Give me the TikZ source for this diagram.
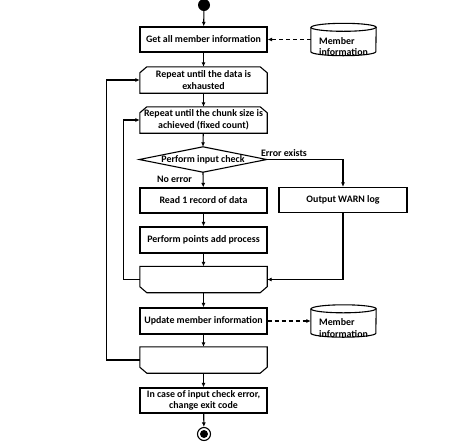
\documentclass[tikz,border=0pt]{standalone}
\usepackage{fontspec}
\setmainfont{Carlito}
\usetikzlibrary{arrows.meta}
\begin{document}
\begin{tikzpicture}[x=1pt,y=-1pt,
  font=\fontsize{9.9}{11.5}\selectfont\bfseries,
  outline/.style={draw=black, line width=1.1pt},
  box/.style={outline, minimum width=127pt, minimum height=25pt, inner sep=1pt, align=center},
  shell/.style={minimum width=127pt, minimum height=26pt, inner sep=1pt, align=center},
  flow/.style={line width=1.1pt, -{Latex[length=4.5pt,width=4pt]}},
  dashflow/.style={flow, dash pattern=on 4pt off 3pt},
  lbl/.style={inner sep=0pt},
  dbshape/.style={minimum width=65pt, minimum height=32pt, inner sep=0pt}
]
\useasboundingbox (0,0) rectangle (474,445);

% start / end
\node[circle, fill=black, minimum size=12pt, inner sep=0pt] (start) at (204,5) {};
\node[box] (b1) at (203.5,39.5) {Get all member information};
\node[shell] (l1) at (203.5,80) {Repeat until the data is\\exhausted};
\node[shell] (l2) at (203.5,120) {Repeat until the chunk size is\\achieved (fixed count)};
\node[minimum width=127pt, minimum height=25pt, inner sep=0pt] (chk) at (203,159.5) {Perform input check};
\node[box] (rd) at (203.5,200.5) {Read 1 record of data};
\node[box, minimum width=128pt] (warn) at (343,200) {Output WARN log};
\node[box, minimum height=26pt] (pts) at (203.5,240) {Perform points add process};
\node[shell] (e1) at (203.5,279.5) {};
\node[box, minimum height=26pt] (upd) at (203.5,321) {Update member information};
\node[shell] (e2) at (203.5,360) {};
\node[box] (fin) at (203.5,400.5) {In case of input check error,\\change exit code};
\node[circle, outline, minimum size=13pt, inner sep=0pt] (stop) at (204,434) {};
\fill (stop.center) circle (4pt);

% chamfered loop shapes
\draw[outline] ([xshift=7pt]l1.north west) -- ([xshift=-7pt]l1.north east) -- ([yshift=-6pt]l1.north east) -- (l1.south east) -- (l1.south west) -- ([yshift=-6pt]l1.north west) -- cycle;
\draw[outline] ([xshift=7pt]l2.north west) -- ([xshift=-7pt]l2.north east) -- ([yshift=-6pt]l2.north east) -- (l2.south east) -- (l2.south west) -- ([yshift=-6pt]l2.north west) -- cycle;
\draw[outline] (e1.north west) -- (e1.north east) -- ([yshift=6pt]e1.south east) -- ([xshift=-7pt]e1.south east) -- ([xshift=7pt]e1.south west) -- ([yshift=6pt]e1.south west) -- cycle;
\draw[outline] (e2.north west) -- (e2.north east) -- ([yshift=6pt]e2.south east) -- ([xshift=-7pt]e2.south east) -- ([xshift=7pt]e2.south west) -- ([yshift=6pt]e2.south west) -- cycle;

% diamond
\draw[outline] (chk.west) -- (chk.north) -- (chk.east) -- (chk.south) -- cycle;

% data stores
\node[dbshape] (db1) at (343.5,39.5) {};
\node[dbshape] (db2) at (343.5,321) {};
\foreach \d in {db1,db2}{
  \draw[outline] ([yshift=-4pt]\d.north west) -- ([yshift=4pt]\d.south west) arc (180:360:32.5pt and 4pt) -- ([yshift=-4pt]\d.north east) arc (0:180:32.5pt and 4pt) -- cycle;
  \draw[outline] ([yshift=-4pt]\d.north west) arc (180:360:32.5pt and 4pt);
  \node[align=left, inner sep=0pt] at ([yshift=-7pt]\d.center) {Member\\information};
}

% main flow
\draw[flow] (start) -- (b1);
\draw[flow] (b1) -- (l1);
\draw[flow] (l1) -- (l2);
\draw[flow] (l2) -- (chk.north);
\draw[flow] (chk.south) -- (rd);
\draw[flow] (rd) -- (pts);
\draw[flow] (pts) -- (e1);
\draw[flow] (e1) -- (upd);
\draw[flow] (upd) -- (e2);
\draw[flow] (e2) -- (fin);
\draw[flow] (fin) -- (stop);

% branches
\draw[flow] (chk.east) -| (warn.north);
\draw[flow] (warn.south) |- (e1.east);
\node[lbl] (errlbl) at (284,153) {Error exists};
\node[lbl] (oklbl) at (174.5,179) {No error};

% loop backs
\draw[flow] (e1.west) -- ++(-16,0) |- (l2.west);
\draw[flow] (e2.west) -- ++(-33,0) |- (l1.west);

% data access
\draw[dashflow] (b1.east -| db1.west) -- (b1.east);
\draw[dashflow] (upd.east) -- (upd.east -| db2.west);
\end{tikzpicture}
\end{document}
